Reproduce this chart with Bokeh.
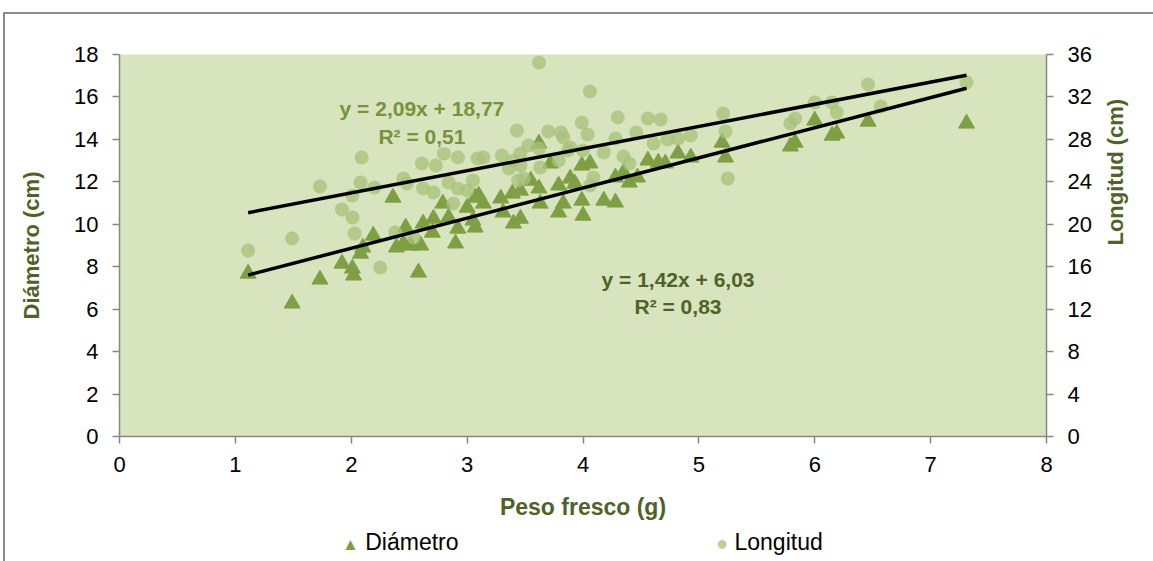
import math
from bokeh.plotting import figure
from bokeh.layouts import column
from bokeh.models import Range1d, LinearAxis, Label, FixedTicker, Div
from bokeh.embed import file_html
from bokeh.resources import INLINE

# ---- data ----
peso_diam = [1.11, 1.49, 1.73, 1.92, 2.01, 2.02, 2.10, 2.08, 2.19, 2.36, 2.39, 2.45, 2.47, 2.51,
             2.60, 2.58, 2.62, 2.71, 2.70, 2.79, 2.84, 2.90, 2.92, 3.00, 3.07, 3.10, 3.07, 3.05,
             3.14, 3.29, 3.31, 3.39, 3.46, 3.46, 3.40, 3.55, 3.62, 3.63, 3.62, 3.72, 3.79, 3.83,
             3.89, 3.93, 3.79, 3.99, 4.06, 3.99, 4.00, 4.18, 4.28, 4.28, 4.35, 4.40, 4.47, 4.56,
             4.65, 4.71, 4.82, 4.93, 5.20, 5.23, 5.79, 5.83, 6.00, 6.15, 6.19, 6.46, 7.31]
diametro = [7.68, 6.27, 7.40, 8.15, 7.92, 7.59, 8.91, 8.62, 9.47, 11.26, 8.91, 9.10, 9.85, 9.00,
            9.00, 7.73, 10.04, 10.27, 9.61, 10.98, 10.32, 9.10, 9.80, 10.79, 11.26, 11.36, 9.85, 10.18,
            10.98, 11.22, 10.56, 11.45, 11.59, 10.27, 10.04, 12.06, 11.69, 10.98, 13.81, 12.87, 11.83, 10.98,
            12.16, 11.92, 10.56, 12.77, 12.87, 11.12, 10.41, 11.12, 11.03, 12.21, 12.44, 11.97, 12.21, 13.01,
            12.91, 12.87, 13.34, 13.15, 13.85, 13.15, 13.67, 13.85, 14.89, 14.18, 14.28, 14.84, 14.75]

peso_long = [1.11, 1.49, 1.73, 1.92, 2.01, 2.03, 2.01, 2.08, 2.09, 2.20, 2.25, 2.45, 2.48, 2.54,
             2.38, 2.61, 2.73, 2.62, 2.71, 2.84, 2.92, 2.88, 3.00, 3.05, 3.09, 2.92, 3.14, 3.30,
             3.43, 3.53, 3.62, 3.46, 3.40, 3.36, 3.46, 3.44, 3.49, 3.63, 3.79, 3.87, 3.89, 4.00,
             4.18, 4.09, 4.06, 3.62, 4.06, 3.99, 4.04, 3.70, 3.81, 3.83, 4.30, 4.56, 4.67, 4.28,
             4.46, 4.61, 4.73, 4.82, 4.93, 5.21, 5.23, 5.25, 4.35, 4.40, 5.79, 5.83, 6.00, 6.15,
             6.19, 6.46, 6.57, 7.31, 2.80]
longitud = [17.53, 18.66, 23.56, 21.39, 20.64, 19.13, 22.71, 23.94, 26.30, 23.47, 15.93, 24.32, 23.84, 18.76,
            19.23, 25.73, 25.54, 23.37, 23.00, 23.94, 23.37, 21.96, 23.19, 24.13, 26.20, 26.30, 26.30, 26.48,
            28.84, 27.43, 27.14, 26.67, 26.01, 25.26, 25.54, 24.13, 24.32, 25.35, 26.01, 26.96, 27.24, 26.96,
            26.77, 24.41, 23.66, 35.25, 32.52, 29.59, 28.46, 28.75, 28.65, 28.18, 30.07, 29.97, 29.88, 28.09,
            28.65, 27.61, 27.99, 28.09, 28.37, 30.44, 28.75, 24.32, 26.39, 25.73, 29.50, 29.97, 31.48, 31.48,
            30.54, 33.18, 31.10, 33.37, 26.67]

trend_x = [1.11, 7.31]
diam_slope, diam_icpt = 1.42, 6.03
long_slope, long_icpt = 2.09, 18.77

x_ticks = [0, 1, 2, 3, 4, 5, 6, 7, 8]
left_ticks = [0, 2, 4, 6, 8, 10, 12, 14, 16, 18]
right_ticks = [0, 4, 8, 12, 16, 20, 24, 28, 32, 36]
series_names = ["Diámetro", "Longitud"]

# ---- styles ----
FONT = "'Liberation Sans', Arial, sans-serif"
DARK = "#4F6228"
MID = "#77933C"
TRI = "#7F9F45"
CIRC = "#A7C27B"
CIRC_LEG = "#BBD197"
BG = "#D7E4BD"
AXIS = "#868686"

p = figure(frame_width=927, frame_height=382,
           x_range=Range1d(0, 8), y_range=Range1d(0, 18),
           output_backend="svg", toolbar_location=None,
           min_border_left=114, min_border_right=100,
           min_border_top=40, min_border_bottom=0)
p.extra_y_ranges = {"long": Range1d(0, 36)}
p.background_fill_color = BG
p.border_fill_color = "white"
p.outline_line_color = None
p.grid.visible = False

tri = p.scatter(peso_diam, diametro, marker="triangle", size=16,
                fill_color=TRI, line_color=TRI)
circ = p.scatter(peso_long, longitud, marker="circle", size=14,
                 fill_color=CIRC, fill_alpha=0.75, line_color=None,
                 y_range_name="long")

p.line(trend_x, [diam_slope * v + diam_icpt for v in trend_x],
       line_color="black", line_width=3.5)
p.line(trend_x, [long_slope * v + long_icpt for v in trend_x],
       line_color="black", line_width=3.5, y_range_name="long")


def style_axis(ax, ticks):
    ax.ticker = FixedTicker(ticks=ticks)
    ax.axis_line_color = AXIS
    ax.axis_line_width = 1.5
    ax.major_tick_line_color = AXIS
    ax.major_tick_line_width = 1.5
    ax.major_tick_out = 7
    ax.major_tick_in = 0
    ax.minor_tick_line_color = None
    ax.major_label_text_font = FONT
    ax.major_label_text_font_size = "22px"
    ax.major_label_text_color = "black"
    ax.axis_label_text_font = FONT
    ax.axis_label_text_font_style = "bold"
    ax.axis_label_text_color = DARK


xa = p.xaxis[0]
style_axis(xa, x_ticks)
xa.axis_label = "Peso fresco (g)"
xa.axis_label_text_font_size = "23px"
xa.major_label_standoff = 13
xa.axis_label_standoff = 19

ya = p.yaxis[0]
style_axis(ya, left_ticks)
ya.axis_label = "Diámetro (cm)"
ya.axis_label_text_font_size = "22px"
ya.major_label_standoff = 14
ya.axis_label_standoff = 27

ra = LinearAxis(y_range_name="long")
style_axis(ra, right_ticks)
ra.axis_label = "Longitud (cm)"
ra.axis_label_text_font_size = "22px"
ra.axis_label_orientation = math.pi / 2
ra.major_label_standoff = 14
ra.axis_label_standoff = 21
p.add_layout(ra, "right")

# regression labels
lab1 = Label(x=2.61, y=16.0, text="y = 2,09x + 18,77\nR² = 0,51",
             text_align="center", text_baseline="top",
             text_font=FONT, text_font_size="21px", text_font_style="bold",
             text_color=MID, text_line_height=1.2,
             background_fill_color=BG)
lab2 = Label(x=4.82, y=7.95, text="y = 1,42x + 6,03\nR² = 0,83",
             text_align="center", text_baseline="top",
             text_font=FONT, text_font_size="21px", text_font_style="bold",
             text_color=DARK, text_line_height=1.2)
p.add_layout(lab1)
p.add_layout(lab2)

# legend row below the chart
legend_html = (
    f'<div style="position:relative;width:1141px;height:32px;font-family:{FONT};'
    f'font-size:23px;line-height:30px;color:black;white-space:nowrap;">'
    f'<span style="position:absolute;left:332px;top:0;">'
    f'<span style="color:{TRI};font-size:17px;">&#9650;</span>&nbsp;{series_names[0]}</span>'
    f'<span style="position:absolute;left:706px;top:0;">'
    f'<span style="color:{CIRC_LEG};font-size:20px;">&#9679;</span>&nbsp;{series_names[1]}</span>'
    f'</div>'
)
legend_div = Div(text=legend_html, width=1141, height=32)

layout = column(p, legend_div, spacing=0)
layout.styles = {"border-top": "2px solid #8c8c8c", "border-left": "2px solid #8c8c8c",
                 "margin-top": "12px", "margin-left": "3px"}

open("out.html", "w").write(file_html(layout, INLINE))
